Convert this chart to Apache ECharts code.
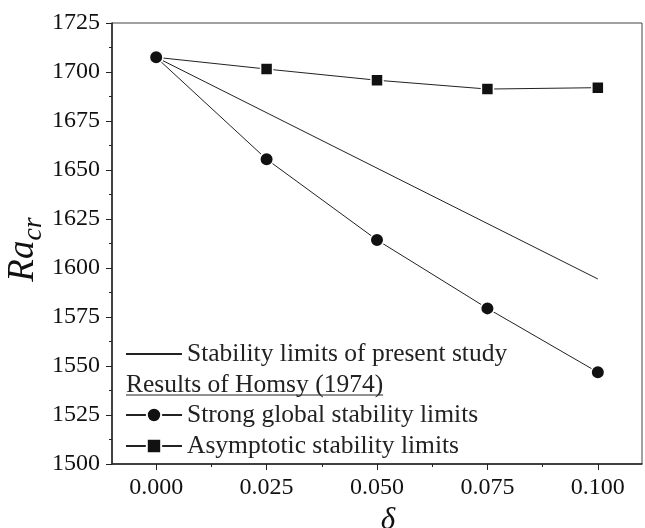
<!DOCTYPE html>
<html>
<head>
<meta charset="utf-8">
<script src="https://cdn.jsdelivr.net/npm/echarts@6/dist/echarts.min.js"></script>
<style>
html,body{margin:0;padding:0;background:#fff;}
#chart{width:645px;height:528px;}
</style>
</head>
<body>
<div id="chart"></div>
<script>
// ---- data ----
const deltaValues = [0, 0.025, 0.05, 0.075, 0.1];
const strongRa = [1707.5, 1655.5, 1614.3, 1579.4, 1546.8];
const asymRa = [1707.5, 1701.5, 1695.8, 1691.3, 1692.0];
const presentDelta = [0, 0.1];
const presentRa = [1707.5, 1594.4];
const xMajorTicks = [0, 0.025, 0.05, 0.075, 0.1];
const xMinorTicks = [0.0125, 0.0375, 0.0625, 0.0875];
const seriesNames = ['Stability limits of present study', 'Strong global stability limits', 'Asymptotic stability limits'];
const headerText = 'Results of Homsy (1974)';

const FONT = 'Liberation Serif';
const chart = echarts.init(document.getElementById('chart'), null, {renderer: 'canvas'});

// measure header width for underline
const cv = document.createElement('canvas').getContext('2d');
cv.font = '25.5px "' + FONT + '"';
const headerW = cv.measureText(headerText).width;

const axisCol = '#222';
const legendText = {fontFamily: FONT, fontSize: 25.5, color: '#222'};
const option = {
  backgroundColor: '#fff',
  animation: false,
  grid: {left: 112, right: 3, top: 23, bottom: 64, outerBoundsMode: 'none', containLabel: false,
    show: true, borderColor: '#444', borderWidth: 1, backgroundColor: 'transparent'},
  xAxis: [{
    type: 'value', min: -0.01, max: 0.11, position: 'bottom',
    name: 'δ', nameLocation: 'middle', nameGap: 41, nameMoveOverlap: false,
    nameTextStyle: {fontFamily: FONT, fontStyle: 'italic', fontSize: 31, color: '#111', padding: [0, 0, 0, 22]},
    axisLine: {show: true, onZero: false, lineStyle: {color: axisCol, width: 1.5}},
    axisTick: {show: true, customValues: xMajorTicks, length: 6, lineStyle: {color: axisCol, width: 1}},
    axisLabel: {show: true, customValues: xMajorTicks, margin: 12, fontFamily: FONT, fontSize: 24, color: '#111',
      formatter: v => v.toFixed(3)},
    splitLine: {show: false}
  }, {
    type: 'value', min: -0.01, max: 0.11, position: 'bottom',
    axisLine: {show: false, onZero: false},
    axisTick: {show: true, customValues: xMinorTicks, length: 3, lineStyle: {color: axisCol, width: 1}},
    axisLabel: {show: false},
    splitLine: {show: false}
  }],
  yAxis: {
    type: 'value', min: 1500, max: 1725, interval: 25,
    name: '{a|Ra}{b|cr}', nameLocation: 'middle', nameGap: 64, nameRotate: 90, nameMoveOverlap: false,
    nameTextStyle: {
      padding: [0, 12, 0, 0],
      rich: {
        a: {fontFamily: FONT, fontStyle: 'italic', fontSize: 37, color: '#111', lineHeight: 50},
        b: {fontFamily: FONT, fontStyle: 'italic', fontSize: 28, color: '#111', lineHeight: 28, verticalAlign: 'bottom'}
      }
    },
    axisLine: {show: true, onZero: false, lineStyle: {color: axisCol, width: 1.5}},
    axisTick: {show: true, length: 6, lineStyle: {color: axisCol, width: 1}},
    minorTick: {show: true, splitNumber: 2, length: 3, lineStyle: {color: axisCol, width: 1}},
    axisLabel: {margin: 12, fontFamily: FONT, fontSize: 24, color: '#111', formatter: v => String(v)},
    splitLine: {show: false}
  },
  legend: [{
    data: [{name: seriesNames[0], itemStyle: {opacity: 0}}], orient: 'vertical', left: 125, top: 341, padding: 0,
    itemWidth: 56, itemHeight: 18, selectedMode: false, textStyle: legendText
  }, {
    data: [seriesNames[1], seriesNames[2]], orient: 'vertical', left: 125, top: 402, padding: 0,
    itemWidth: 56, itemHeight: 18, itemGap: 5, selectedMode: false, textStyle: legendText
  }],
  graphic: [{
    type: 'text', left: 126, top: 372,
    style: {text: headerText, font: '25.5px "' + FONT + '"', fill: '#222'}
  }, {
    type: 'line', shape: {x1: 126, y1: 395, x2: 126 + headerW, y2: 395},
    style: {stroke: '#222', lineWidth: 1}
  }],
  series: [{
    name: seriesNames[0], type: 'line', symbol: 'none', z: 1,
    data: presentDelta.map((d, i) => [d, presentRa[i]]),
    lineStyle: {color: '#222', width: 1},
    itemStyle: {color: '#222'}
  }, {
    name: seriesNames[2], type: 'line', symbol: 'rect', symbolSize: 12, z: 2,
    data: deltaValues.map((d, i) => [d, asymRa[i]]),
    lineStyle: {color: '#222', width: 1},
    itemStyle: {color: '#111', borderColor: '#fff', borderWidth: 1.5}
  }, {
    name: seriesNames[1], type: 'line', symbol: 'circle', symbolSize: 13.5, z: 3,
    data: deltaValues.map((d, i) => [d, strongRa[i]]),
    lineStyle: {color: '#222', width: 1},
    itemStyle: {color: '#111', borderColor: '#fff', borderWidth: 1.5}
  }]
};
chart.setOption(option);
</script>
</body>
</html>
